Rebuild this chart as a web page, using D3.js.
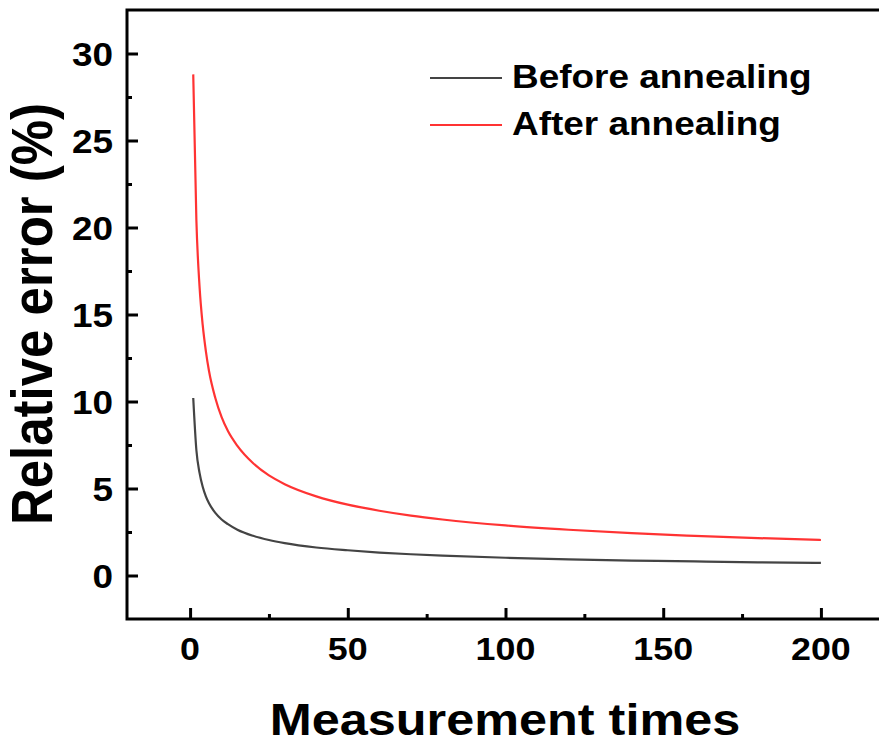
<html>
<script src="https://d3js.org/d3.v7.min.js"></script>
<style>
    body { margin: 0; background: #fff; }
    text { font-family: "Liberation Sans", Arial, sans-serif; font-weight: bold; fill: #000; }
</style>
<body>
<svg id="chart" width="879" height="747"></svg>
<script>
// values
var measurementTimes = [1, 2, 3, 4, 5, 6, 8, 10, 12, 15, 20, 25, 30, 40, 50, 60, 70, 80, 100, 120, 140, 160, 180, 200];
var beforeAnnealing = [10.2, 7.2, 5.9, 5.1, 4.55, 4.15, 3.6, 3.22, 2.95, 2.63, 2.28, 2.04, 1.86, 1.61, 1.45, 1.32, 1.22, 1.14, 1.02, 0.93, 0.86, 0.81, 0.76, 0.72];
var afterAnnealing = [28.8, 20.4, 16.6, 14.4, 12.9, 11.75, 10.2, 9.1, 8.3, 7.45, 6.45, 5.75, 5.25, 4.55, 4.07, 3.72, 3.44, 3.22, 2.88, 2.63, 2.43, 2.28, 2.15, 2.04];
var seriesNames = ["Before annealing", "After annealing"];
var seriesColors = ["#444444", "#ff3333"];
var xTicks = [0, 50, 100, 150, 200];
var xMinorTicks = [25, 75, 125, 175];
var yTicks = [0, 5, 10, 15, 20, 25, 30];
var yMinorTicks = [2.5, 7.5, 12.5, 17.5, 22.5, 27.5];

var stretch = 1.12; // the reference text is a bit wide

var svg = d3.select("#chart");
var plotLeft = 127, plotRight = 884, plotTop = 10, plotBottom = 619;

var x = d3.scaleLinear().domain([-20, 220]).range([plotLeft, plotRight]);
var y = d3.scaleLinear().domain([-2.5, 32.5]).range([plotBottom, plotTop]);

// ticks (inward)
function ticks(axis, transform) {
    svg.append("g")
        .attr("transform", transform)
        .call(axis.tickFormat(""))
        .call(function(g) { g.select(".domain").remove(); })
        .selectAll("line").attr("stroke-width", 3);
}
ticks(d3.axisBottom(x).tickValues(xTicks).tickSize(-11), "translate(0," + plotBottom + ")");
ticks(d3.axisBottom(x).tickValues(xMinorTicks).tickSize(-5), "translate(0," + plotBottom + ")");
ticks(d3.axisLeft(y).tickValues(yTicks).tickSize(-11), "translate(" + plotLeft + ",0)");
ticks(d3.axisLeft(y).tickValues(yMinorTicks).tickSize(-5), "translate(" + plotLeft + ",0)");

// frame: left, top, bottom
svg.append("path")
    .attr("d", "M" + plotRight + "," + plotTop + "H" + plotLeft + "V" + plotBottom + "H" + plotRight)
    .attr("fill", "none")
    .attr("stroke", "#000")
    .attr("stroke-width", 3);

// tick labels
svg.selectAll(".xlab")
    .data(xTicks)
    .enter().append("text")
    .attr("class", "xlab")
    .attr("transform", function(d) { return "translate(" + x(d) + ",660) scale(" + stretch + ",1)"; })
    .attr("text-anchor", "middle")
    .style("font-size", "32px")
    .text(function(d) { return d; });

svg.selectAll(".ylab")
    .data(yTicks)
    .enter().append("text")
    .attr("class", "ylab")
    .attr("transform", function(d) { return "translate(113," + (y(d) + 12) + ") scale(" + stretch + ",1)"; })
    .attr("text-anchor", "end")
    .style("font-size", "33px")
    .text(function(d) { return d; });

// axis titles
svg.append("text")
    .attr("transform", "translate(505,735) scale(" + stretch + ",1)")
    .attr("text-anchor", "middle")
    .style("font-size", "45px")
    .text("Measurement times");

svg.append("text")
    .attr("transform", "translate(52,314) scale(" + stretch + ",1) rotate(-90)")
    .attr("text-anchor", "middle")
    .style("font-size", "51px")
    .text("Relative error (%)");

// curves
var line = d3.line()
    .x(function(d) { return x(d[0]); })
    .y(function(d) { return y(d[1]); })
    .curve(d3.curveMonotoneX);

[beforeAnnealing, afterAnnealing].forEach(function(vals, i) {
    svg.append("path")
        .datum(measurementTimes.map(function(t, j) { return [t, vals[j]]; }))
        .attr("d", line)
        .attr("fill", "none")
        .attr("stroke", seriesColors[i])
        .attr("stroke-width", 2.2);
});

// legend
var legend = svg.selectAll(".legend")
    .data(seriesNames)
    .enter().append("g")
    .attr("class", "legend")
    .attr("transform", function(d, i) { return "translate(430," + (78 + i * 47) + ")"; });
legend.append("line")
    .attr("x1", 0).attr("x2", 72)
    .attr("stroke", function(d, i) { return seriesColors[i]; })
    .attr("stroke-width", 2.2);
legend.append("text")
    .attr("transform", "translate(82,10) scale(" + stretch + ",1)")
    .style("font-size", "33px")
    .text(function(d) { return d; });
</script>
</body>
</html>
